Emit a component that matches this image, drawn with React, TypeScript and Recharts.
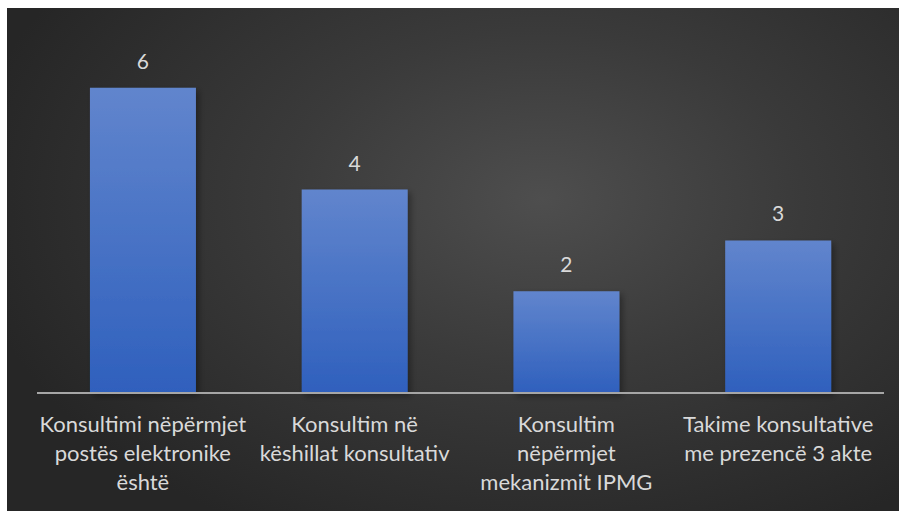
import { BarChart, Bar, XAxis, YAxis, LabelList } from 'recharts'

const categories = [
  'Konsultimi nëpërmjet postës elektronike është',
  'Konsultim në këshillat konsultativ',
  'Konsultim nëpërmjet mekanizmit IPMG',
  'Takime konsultative me prezencë 3 akte',
]
const tickLines = [
  ['Konsultimi nëpërmjet', 'postës elektronike', 'është'],
  ['Konsultim në', 'këshillat konsultativ'],
  ['Konsultim', 'nëpërmjet', 'mekanizmit IPMG'],
  ['Takime konsultative', 'me prezencë 3 akte'],
]
const values = [6, 4, 2, 3]

const data = categories.map((name, i) => ({ name, value: values[i], idx: i }))

const FONT = 'Lato, "Open Sans", sans-serif'

function WrappedTick(props: { x?: number; y?: number; index?: number }) {
  const { x = 0, y = 0, index = 0 } = props
  const lines = tickLines[index] || []
  return (
    <text x={x} y={y} textAnchor="middle" fill="#d9d9d9" fontSize={22} fontFamily={FONT}>
      {lines.map((l, i) => (
        <tspan key={i} x={x} dy={i === 0 ? 31 : 29}>
          {l}
        </tspan>
      ))}
    </text>
  )
}

export default function App() {
  return (
    <div
      style={{
        position: 'absolute',
        left: 7,
        top: 8,
        width: 892,
        height: 503,
        background: 'radial-gradient(ellipse 65% 75% at 60% 38%, #4e4e4e 0%, #3a3a3a 45%, #262626 100%)',
      }}
    >
      <BarChart width={892} height={503} data={data} margin={{ top: 29, right: 15, bottom: 8, left: 30 }} barCategoryGap="25%">
        <defs>
          <linearGradient id="barFill" x1="0" y1="0" x2="0" y2="1">
            <stop offset="0%" stopColor="#6185cd" />
            <stop offset="100%" stopColor="#2f60bd" />
          </linearGradient>
          <filter id="barShadow" x="-10%" y="-10%" width="125%" height="125%">
            <feDropShadow dx="3" dy="3" stdDeviation="3" floodColor="#000" floodOpacity="0.35" />
          </filter>
        </defs>
        <XAxis
          dataKey="name"
          height={110}
          tickLine={false}
          axisLine={{ stroke: '#a6a6a6', strokeWidth: 2 }}
          tick={<WrappedTick />}
          interval={0}
        />
        <YAxis hide domain={[0, 7]} />
        <Bar dataKey="value" fill="url(#barFill)" isAnimationActive={false} filter="url(#barShadow)">
          <LabelList dataKey="value" position="top" offset={19} fill="#d9d9d9" fontSize={21} fontFamily={FONT} />
        </Bar>
      </BarChart>
    </div>
  )
}
